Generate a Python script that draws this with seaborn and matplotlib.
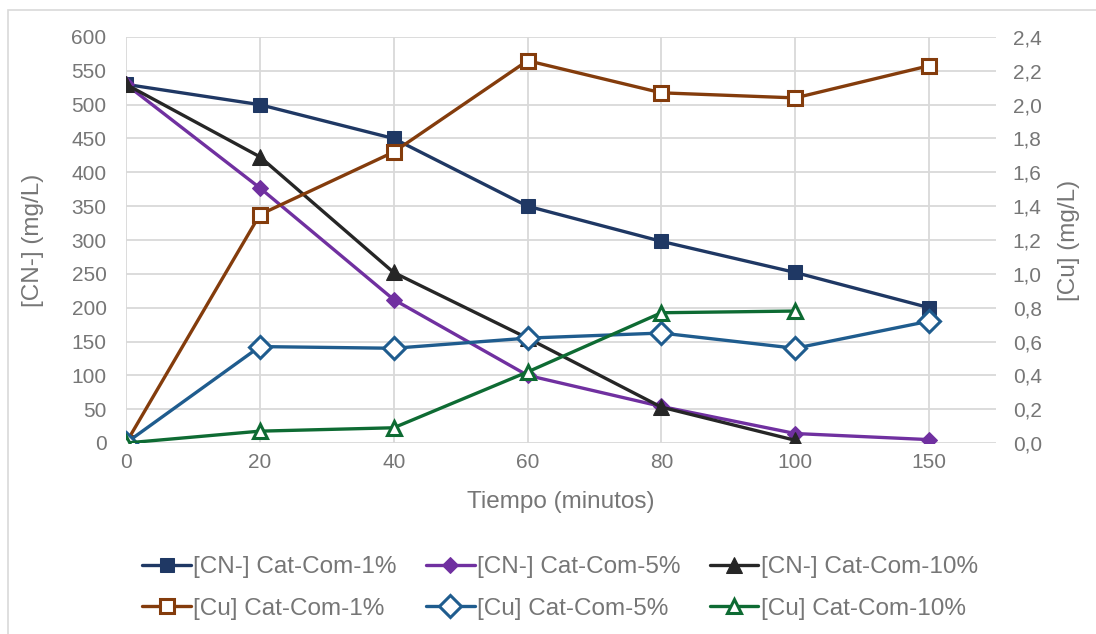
import matplotlib
matplotlib.use("Agg")
import matplotlib.pyplot as plt
from matplotlib.patches import Rectangle
from matplotlib.ticker import FuncFormatter, MultipleLocator
import seaborn as sns
import pandas as pd
import numpy as np

# ---- data ----
tiempo = ["0", "20", "40", "60", "80", "100", "150"]
cn_1 = [530, 500, 450, 350, 298, 252, 200]
cn_5 = [530, 377, 212, 100, 54, 14, 5]
cn_10 = [530, 423, 252, 155, 53, 4, None]
cu_1 = [0.0, 1.35, 1.72, 2.26, 2.07, 2.04, 2.23]
cu_5 = [0.0, 0.57, 0.56, 0.62, 0.65, 0.56, 0.72]
cu_10 = [0.0, 0.07, 0.09, 0.42, 0.77, 0.78, None]

labels_cn = ["[CN-] Cat-Com-1%", "[CN-] Cat-Com-5%", "[CN-] Cat-Com-10%"]
labels_cu = ["[Cu] Cat-Com-1%", "[Cu] Cat-Com-5%", "[Cu] Cat-Com-10%"]

sns.set_theme(style="white")
plt.rcParams["font.family"] = ["Liberation Sans", "DejaVu Sans"]
TXT = "#767676"
GRID = "#D9D9D9"

fig = plt.figure(figsize=(10.96, 6.34), dpi=100)
ax = fig.add_axes([126 / 1096, 1 - 443 / 634, (996 - 126) / 1096, (443 - 37) / 634])
ax2 = ax.twinx()

pos = np.arange(len(tiempo))

def series(vals):
    return pd.DataFrame({"x": pos, "y": pd.array(vals, dtype="Float64")}).dropna().astype(float)

lw = 2.4
cn_styles = [
    dict(color="#1F3864", marker="s", markersize=10, markerfacecolor="#1F3864", markeredgecolor="#1F3864"),
    dict(color="#7030A0", marker="D", markersize=8, markerfacecolor="#7030A0", markeredgecolor="#7030A0"),
    dict(color="#262626", marker="^", markersize=11, markerfacecolor="#262626", markeredgecolor="#262626"),
]
cu_styles = [
    dict(color="#843C0C", marker="s", markersize=10, markerfacecolor="white", markeredgecolor="#843C0C", markeredgewidth=2.2),
    dict(color="#1F5C8E", marker="D", markersize=11, markerfacecolor="white", markeredgecolor="#1F5C8E", markeredgewidth=2.2),
    dict(color="#0E6B33", marker="^", markersize=10, markerfacecolor="white", markeredgecolor="#0E6B33", markeredgewidth=2.2),
]

for vals, lab, st in zip([cn_1, cn_5, cn_10], labels_cn, cn_styles):
    sns.lineplot(data=series(vals), x="x", y="y", ax=ax, label=lab, linewidth=lw, **st)

for vals, lab, st in zip([cu_1, cu_5, cu_10], labels_cu, cu_styles):
    sns.lineplot(data=series(vals), x="x", y="y", ax=ax2, label=lab, linewidth=lw, **st)

ax.set_xlim(0, 6.5)
ax.set_ylim(0, 600)
ax2.set_ylim(0, 2.4)
ax.yaxis.set_major_locator(MultipleLocator(50))
ax2.yaxis.set_major_locator(MultipleLocator(0.2))
ax2.yaxis.set_major_formatter(FuncFormatter(lambda v, p: f"{v:.1f}".replace(".", ",")))
ax.set_xticks(pos)
ax.set_xticklabels(tiempo)

ax.grid(True, color=GRID, linewidth=1.3)
ax2.grid(False)
for a in (ax, ax2):
    for s in a.spines.values():
        s.set_visible(False)
    a.tick_params(length=0, labelsize=15, labelcolor=TXT)
ax.tick_params(axis="y", pad=14)
ax2.tick_params(axis="y", pad=12)
ax.tick_params(axis="x", pad=7)

ax.set_xlabel("Tiempo (minutos)", fontsize=17.5, color=TXT, labelpad=14)
ax.set_ylabel("[CN-] (mg/L)", fontsize=17.5, color=TXT, labelpad=20)
ax2.set_ylabel("[Cu] (mg/L)", fontsize=17.5, color=TXT, labelpad=12)

h1, l1 = ax.get_legend_handles_labels()
h2, l2 = ax2.get_legend_handles_labels()
for a in (ax, ax2):
    if a.get_legend():
        a.get_legend().remove()
order_h = [h1[0], h2[0], h1[1], h2[1], h1[2], h2[2]]
order_l = [l1[0], l2[0], l1[1], l2[1], l1[2], l2[2]]
fig.legend(order_h, order_l, ncol=3, loc="center", bbox_to_anchor=(560 / 1096, 1 - 588 / 634),
           frameon=False, fontsize=17.5, labelcolor=TXT, handlelength=2.0, handletextpad=0.1,
           columnspacing=1.2, labelspacing=0.8)

fig.add_artist(Rectangle((8 / 1096, -0.1), 1.2, 1.1 - 10 / 634, transform=fig.transFigure,
                         fill=False, edgecolor=GRID, linewidth=1.2))

fig.savefig("out.png", dpi=100)
